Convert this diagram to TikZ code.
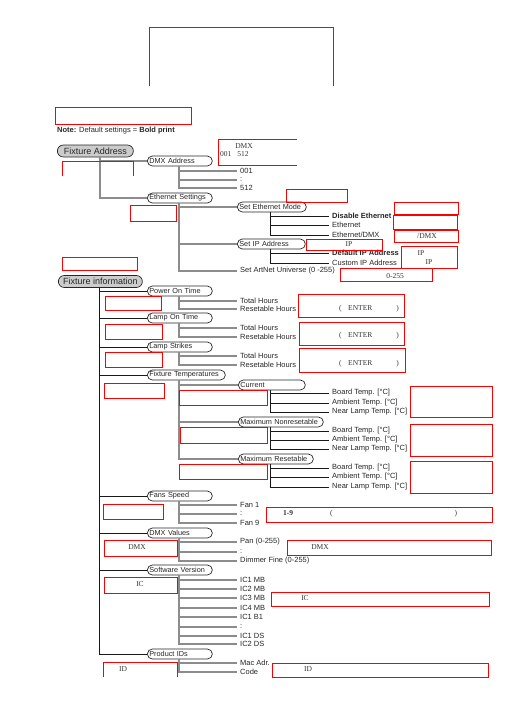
\documentclass[tikz,border=0pt]{standalone}
\usepackage{fontspec}
\setmainfont{Liberation Sans}
\newfontfamily\annofont{Liberation Serif}
\usepackage{tikz}

\begin{document}
\begin{tikzpicture}[
  x=1pt, y=-1pt,
  font=\fontsize{7.5}{9}\selectfont, text=black!85,
  rootnode/.style={draw=black!85, line width=0.7pt, fill=black!20, rounded corners=6pt, anchor=west, minimum height=12pt, minimum width=#1, inner xsep=2pt, inner ysep=0pt, font=\fontsize{9}{10}\selectfont},
  pill/.style={draw=black!85, line width=0.7pt, fill=white, rounded corners=5pt, anchor=west, minimum height=10pt, inner xsep=2pt, inner ysep=0pt, text width=#1, align=left, font=\fontsize{7.3}{8}\selectfont},
  pill/.default=61pt,
  leaf/.style={anchor=west, inner xsep=3pt, inner ysep=0pt},
  tline/.style={line width=1.1pt, black!45},
  bline/.style={line width=0.9pt, black!90},
  redbox/.style={draw=red, line width=1pt},
  anno/.style={font=\annofont\fontsize{7.5}{9}\selectfont, inner sep=0pt, text=black!80}
]
\useasboundingbox (0,0) rectangle (504,713);

% Kopfbereich
\draw[redbox] (149,86) -- (149,27) -- (333,27) -- (333,86);
\draw[redbox] (55,107) rectangle (191,124);
\node[anchor=west, inner sep=0pt] (note) at (57,131) {\textbf{Note:} Default settings = \textbf{Bold print}};

% Fixture Address
\node[rootnode=76pt] (fa) at (57,151) {Fixture Address};
\node[pill] (dmx) at (147,161) {DMX Address};
\node[pill] (eth) at (147,198) {Ethernet Settings};
\node[leaf] (d001) at (237,171) {001};
\node[leaf] (dcol) at (237,180) {:};
\node[leaf] (d512) at (237,188) {512};
\node[pill=65pt] (sem) at (237,207) {Set Ethernet Mode};
\node[pill=64pt] (sip) at (237,244) {Set IP Address};
\node[leaf] (artnet) at (237,271) {Set ArtNet Universe (0 -255)};
\node[leaf] (dise) at (329,216) {\textbf{Disable Ethernet}};
\node[leaf] (ethn) at (329,225) {Ethernet};
\node[leaf] (edmx) at (329,235) {Ethernet/DMX};
\node[leaf] (dip) at (329,253) {\textbf{Default IP Address}};
\node[leaf] (cip) at (329,263) {Custom IP Address};

\coordinate (fa-b) at ([xshift=43pt]fa.south west);
\coordinate (dmx-b) at ([xshift=32pt]dmx.south west);
\coordinate (eth-b) at ([xshift=32pt]eth.south west);
\coordinate (sem-b) at ([xshift=33pt]sem.south west);
\coordinate (sip-b) at ([xshift=33pt]sip.south west);
\draw[tline] (fa-b) |- (dmx.west) (fa-b) |- (eth.west);
\draw[tline] (dmx-b) |- (d001.west) (dmx-b) |- (dcol.west) (dmx-b) |- (d512.west);
\draw[tline] (eth-b) |- (sem.west) (eth-b) |- (sip.west) (eth-b) |- (artnet.west);
\draw[bline] (sem-b) |- (dise.west) (sem-b) |- (ethn.west) (sem-b) |- (edmx.west);
\draw[bline] (sip-b) |- (dip.west) (sip-b) |- (cip.west);

% Anmerkungen Fixture Address
\draw[redbox] (62,176) -- (62,161) -- (133,161) -- (133,176);
\draw[redbox] (297,139) -- (218,139) -- (218,165) -- (297,165);
\node[anno] (dmxtxt) at (244,146) {DMX};
\node[anno, anchor=west] (rangetxt) at (220,154) {001\hspace{6pt}512};
\draw[redbox] (130,205) rectangle (176,221);
\draw[redbox] (286,189) rectangle (347,202);
\draw[redbox] (394,202) rectangle (458,214);
\draw[redbox] (393,215) rectangle (457,229);
\draw[redbox] (394,230) rectangle (458,242);
\node[anno] (edmxtxt) at (427,236) {/DMX};
\draw[redbox] (306,239) rectangle (382,250);
\node[anno] (iptxt) at (349,244) {IP};
\draw[redbox] (401,246) rectangle (457,268);
\node[anno] (iptxta) at (421,253) {IP};
\node[anno] (iptxtb) at (429,262) {IP};
\draw[redbox] (340,268) rectangle (432,281);
\node[anno] (univtxt) at (395,276) {0-255};

% Fixture information
\draw[redbox] (62,257) rectangle (137,270);
\node[rootnode=84pt] (fi) at (58,281.5) {Fixture information};
\node[pill] (pot) at (147,291) {Power On Time};
\node[pill] (lot) at (147,318) {Lamp On Time};
\node[pill] (ls) at (147,347) {Lamp Strikes};
\node[pill=74pt] (ft) at (147,375) {Fixture Temperatures};
\node[pill] (fs) at (147,496) {Fans Speed};
\node[pill] (dv) at (147,533) {DMX Values};
\node[pill] (sv) at (147,570) {Software Version};
\node[pill] (pid) at (147,654) {Product IDs};

\node[leaf] (tha) at (237,301) {Total Hours};
\node[leaf] (rha) at (237,309) {Resetable Hours};
\node[leaf] (thb) at (237,328) {Total Hours};
\node[leaf] (rhb) at (237,337) {Resetable Hours};
\node[leaf] (thc) at (237,356) {Total Hours};
\node[leaf] (rhc) at (237,365) {Resetable Hours};

\node[pill=63pt] (cur) at (238,385) {Current};
\node[pill=81pt] (mnr) at (238,422) {Maximum Nonresetable};
\node[pill=71pt] (mr) at (238,459) {Maximum Resetable};
\node[leaf] (cb) at (329,393) {Board Temp. [°C]};
\node[leaf] (ca) at (329,403) {Ambient Temp. [°C]};
\node[leaf] (cn) at (329,412) {Near Lamp Temp. [°C]};
\node[leaf] (nb) at (329,431) {Board Temp. [°C]};
\node[leaf] (na) at (329,440) {Ambient Temp. [°C]};
\node[leaf] (nn) at (329,449) {Near Lamp Temp. [°C]};
\node[leaf] (rb) at (329,468) {Board Temp. [°C]};
\node[leaf] (ra) at (329,477) {Ambient Temp. [°C]};
\node[leaf] (rn) at (329,487) {Near Lamp Temp. [°C]};

\node[leaf] (fan1) at (237,505) {Fan 1};
\node[leaf] (fcol) at (237,514) {:};
\node[leaf] (fan9) at (237,523) {Fan 9};
\node[leaf] (pan) at (237,542) {Pan (0-255)};
\node[leaf] (vcol) at (237,552) {:};
\node[leaf] (dimf) at (237,561) {Dimmer Fine (0-255)};
\node[leaf] (icma) at (237,580) {IC1 MB};
\node[leaf] (icmb) at (237,589) {IC2 MB};
\node[leaf] (icmc) at (237,598) {IC3 MB};
\node[leaf] (icmd) at (237,608) {IC4 MB};
\node[leaf] (icba) at (237,617) {IC1 B1};
\node[leaf] (icol) at (237,627) {:};
\node[leaf] (icda) at (237,636) {IC1 DS};
\node[leaf] (icdb) at (237,644) {IC2 DS};
\node[leaf] (mac) at (237,663) {Mac Adr.};
\node[leaf] (code) at (237,672) {Code};

\coordinate (fi-b) at ([xshift=41pt]fi.south west);
\draw[bline] (fi-b) |- (pot.west) (fi-b) |- (lot.west) (fi-b) |- (ls.west) (fi-b) |- (ft.west)
  (fi-b) |- (fs.west) (fi-b) |- (dv.west) (fi-b) |- (sv.west) (fi-b) |- (pid.west);
\coordinate (pot-b) at ([xshift=32pt]pot.south west);
\coordinate (lot-b) at ([xshift=32pt]lot.south west);
\coordinate (ls-b) at ([xshift=32pt]ls.south west);
\coordinate (ft-b) at ([xshift=32pt]ft.south west);
\coordinate (cur-b) at ([xshift=32pt]cur.south west);
\coordinate (mnr-b) at ([xshift=32pt]mnr.south west);
\coordinate (mr-b) at ([xshift=32pt]mr.south west);
\coordinate (fs-b) at ([xshift=32pt]fs.south west);
\coordinate (dv-b) at ([xshift=32pt]dv.south west);
\coordinate (sv-b) at ([xshift=32pt]sv.south west);
\coordinate (pid-b) at ([xshift=32pt]pid.south west);
\draw[tline] (pot-b) |- (tha.west) (pot-b) |- (rha.west);
\draw[tline] (lot-b) |- (thb.west) (lot-b) |- (rhb.west);
\draw[tline] (ls-b) |- (thc.west) (ls-b) |- (rhc.west);
\draw[tline] (ft-b) |- (cur.west) (ft-b) |- (mnr.west) (ft-b) |- (mr.west);
\draw[bline] (cur-b) |- (cb.west) (cur-b) |- (ca.west) (cur-b) |- (cn.west);
\draw[bline] (mnr-b) |- (nb.west) (mnr-b) |- (na.west) (mnr-b) |- (nn.west);
\draw[bline] (mr-b) |- (rb.west) (mr-b) |- (ra.west) (mr-b) |- (rn.west);
\draw[tline] (fs-b) |- (fan1.west) (fs-b) |- (fcol.west) (fs-b) |- (fan9.west);
\draw[tline] (dv-b) |- (pan.west) (dv-b) |- (vcol.west) (dv-b) |- (dimf.west);
\draw[tline] (sv-b) |- (icma.west) (sv-b) |- (icmb.west) (sv-b) |- (icmc.west) (sv-b) |- (icmd.west)
  (sv-b) |- (icba.west) (sv-b) |- (icol.west) (sv-b) |- (icda.west) (sv-b) |- (icdb.west);
\draw[tline] (pid-b) |- (mac.west) (pid-b) |- (code.west);

% Anmerkungen Fixture information
\draw[redbox] (105,296) rectangle (161,310);
\draw[redbox] (298,294) rectangle (404,317);
\node[anno, anchor=west] (entera) at (339,309) {(\hspace{6.5pt}ENTER\hspace{24pt})};
\draw[redbox] (105,324) rectangle (162,339);
\draw[redbox] (299,322) rectangle (404,345);
\node[anno, anchor=west] (enterb) at (339,336) {(\hspace{6.5pt}ENTER\hspace{24pt})};
\draw[redbox] (105,352) rectangle (162,367);
\draw[redbox] (299,348) rectangle (405,372);
\node[anno, anchor=west] (enterc) at (339,364) {(\hspace{6.5pt}ENTER\hspace{24pt})};
\draw[redbox] (104,383) rectangle (164,398);
\draw[redbox] (179,390) rectangle (267,405);
\draw[redbox] (410,386) rectangle (492,417);
\draw[redbox] (180,427) rectangle (267,443);
\draw[redbox] (410,424) rectangle (492,456);
\draw[redbox] (179,464) rectangle (267,479);
\draw[redbox] (410,461) rectangle (492,493);
\draw[redbox] (103,504) rectangle (163,519);
\draw[redbox] (266,507) rectangle (492,522);
\node[anno, anchor=west] (fantxt) at (283,514) {\textbf{1-9}\hspace{37pt}(\hspace{122pt})};
\draw[redbox] (104,540) rectangle (177,556);
\node[anno] (dmxl) at (137,547) {DMX};
\draw[redbox] (287,540) rectangle (491,555);
\node[anno] (dmxr) at (320,547) {DMX};
\draw[redbox] (104,577) rectangle (177,593);
\node[anno] (icl) at (140,584) {IC};
\draw[redbox] (271,592) rectangle (489,606);
\node[anno] (icr) at (305,598) {IC};
\draw[redbox] (103,677) -- (103,662) -- (177,662) -- (177,677);
\node[anno] (idl) at (123,669) {ID};
\draw[redbox] (272,663) rectangle (488,677);
\node[anno] (idr) at (308,669) {ID};
\end{tikzpicture}
\end{document}
